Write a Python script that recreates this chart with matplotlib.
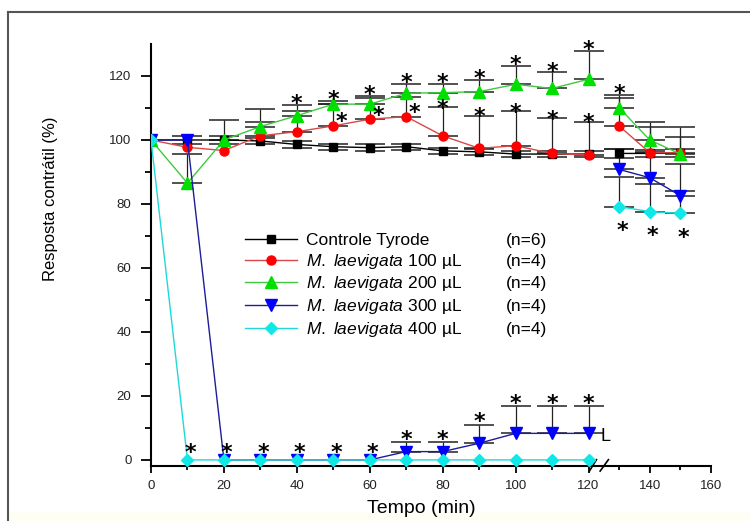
import matplotlib
matplotlib.use("Agg")
import matplotlib.pyplot as plt
import numpy as np
from matplotlib.lines import Line2D
from matplotlib.patches import Rectangle

plt.rcParams['font.family'] = ['Liberation Sans', 'DejaVu Sans']
plt.rcParams['mathtext.fontset'] = 'custom'
plt.rcParams['mathtext.rm'] = 'Liberation Sans'
plt.rcParams['mathtext.it'] = 'Liberation Sans:italic'

# tempo (min)
tempo = [0, 10, 20, 30, 40, 50, 60, 70, 80, 90, 100, 110, 120, 130, 140, 150]

# resposta contratil (%) - media
controle = [100, 100, 100, 99.7, 98.6, 97.9, 97.6, 97.9, 96.6, 96.3, 95.6, 95.6, 95.6, 95.8, 95.8, 96.0]
ml100 = [100, 97.7, 96.7, 101.3, 102.6, 104.4, 106.5, 107.3, 101.3, 97.4, 98.2, 95.8, 95.3, 104.4, 96.0, 96.0]
ml200 = [100, 86.5, 100, 104.2, 107.6, 111.2, 111.2, 114.6, 114.8, 115.1, 117.4, 116.1, 119.0, 110.1, 100.0, 95.6]
ml300 = [100, 100, 0, 0, 0, 0, 0, 2.6, 2.6, 5.2, 8.3, 8.3, 8.3, 90.8, 88.2, 82.6]
ml400 = [100, 0, 0, 0, 0, 0, 0, 0, 0, 0, 0, 0, 0, 79.2, 77.6, 77.1]

# erro padrao (so o lado desenhado)
err_controle = [0, 1.2, 1.2, 1.0, 1.0, 1.0, 1.0, 1.0, 1.0, 1.0, 1.0, 1.0, 1.0, 1.5, 1.2, 1.2]
err_ml100 = [0, 0, 0, 4.2, 6.4, 7.0, 6.5, 6.2, 8.9, 10.2, 10.8, 11.0, 10.4, 8.8, 8.2, 5.0]
err_ml200 = [0, 9.0, 6.3, 5.4, 3.3, 1.0, 2.5, 2.9, 2.7, 3.6, 5.8, 5.0, 8.9, 3.9, 5.5, 8.6]
err_ml300 = [0, 0, 0, 0, 0, 0, 0, 2.9, 2.9, 5.7, 8.4, 8.4, 8.4, 6.3, 8.0, 10.0]
err_ml400 = [0, 0, 0, 0, 0, 0, 0, 0, 0, 0, 0, 0, 0, 9.3, 8.6, 6.9]

# tempos com diferenca significativa (*)
sig_ml100 = [50, 60, 70, 80, 90, 100, 110, 120]
sig_ml200 = [40, 50, 60, 70, 80, 90, 100, 110, 120, 130]
sig_zero = [10, 20, 30, 40, 50, 60]
sig_ml300 = [70, 80, 90, 100, 110, 120]
sig_ml400 = [130, 140, 150]

nomes = ["Controle Tyrode", r"$\it{M.\ laevigata}$ 100 µL", r"$\it{M.\ laevigata}$ 200 µL",
         r"$\it{M.\ laevigata}$ 300 µL", r"$\it{M.\ laevigata}$ 400 µL"]
n_exp = [6, 4, 4, 4, 4]


def fwd(x):
    x = np.asarray(x, dtype=float)
    return np.where(x <= 120, x, 120 + (x - 120) * 0.84)


def inv(x):
    x = np.asarray(x, dtype=float)
    return np.where(x <= 120, x, 120 + (x - 120) / 0.84)


fig = plt.figure(figsize=(7.5, 5.21), dpi=100)
ax = fig.add_axes([151 / 750, 55 / 521, 560 / 750, 422 / 521])
ax.set_xscale('function', functions=(fwd, inv))

t = np.array(tempo)
series = [
    (controle, err_controle, err_controle, 'black', 'black', 's', 6),
    (ml100, [0] * 16, err_ml100, '#d84848', '#ff0000', 'o', 6.5),
    (ml200, [0] * 16, err_ml200, '#40c840', '#00e000', '^', 9),
    (ml300, [0] * 16, err_ml300, '#1c1c9c', '#0000ff', 'v', 8.5),
    (ml400, [0] * 16, err_ml400, '#20d8d8', '#10e8e8', 'D', 6),
]
handles = []
for y, lo, up, lc, mc, m, ms in series:
    y = np.array(y)
    lo = np.array(lo)
    up = np.array(up)
    pre = t <= 120
    pos = t >= 130
    ln, = ax.plot(t[pre], y[pre], color=lc, lw=1, marker=m, mfc=mc, mec=mc, ms=ms, zorder=3)
    ax.plot(t[pos], y[pos], color=lc, lw=1, marker=m, mfc=mc, mec=mc, ms=ms, zorder=3)
    handles.append(ln)
    mk = (lo + up) > 0
    ax.errorbar(t[mk], y[mk], yerr=[lo[mk], up[mk]], fmt='none', ecolor='#222222',
                elinewidth=0.9, capsize=11, capthick=1.1, zorder=2)


def star(x, y, dx=0, dy=0):
    ax.annotate('*', (x, y), xytext=(dx, dy), textcoords='offset points', ha='center',
                va='center', fontsize=16, fontweight='bold', family='DejaVu Sans',
                color='black', zorder=5)


for tt in sig_ml200:
    i = tempo.index(tt)
    star(tt, ml200[i] + err_ml200[i], 0, 0.5)
for tt in sig_ml100:
    i = tempo.index(tt)
    if tt < 80:
        star(tt, ml100[i], 6, 2.5)
    else:
        star(tt, ml100[i] + err_ml100[i], 0, -1)
for tt in sig_zero:
    star(tt, 0, 2, 5)
for tt in sig_ml300:
    i = tempo.index(tt)
    star(tt, ml300[i] + err_ml300[i], 0, 2)
for tt in sig_ml400:
    i = tempo.index(tt)
    star(tt, ml400[i], 2, -17.5)

ax.annotate('L', (120, ml300[12]), xytext=(9, -2), textcoords='offset points',
            ha='left', va='center', fontsize=13)

ax.set_xlim(0, 160)
ax.set_ylim(-1.9, 130)
ax.set_xticks([0, 20, 40, 60, 80, 100, 120, 140, 160])
ax.set_xticks([10, 30, 50, 70, 90, 110, 130, 150], minor=True)
ax.set_xticklabels(['0', '20', '40', '60', '80', '100', '120', '140', '160'])
ax.set_yticks([0, 20, 40, 60, 80, 100, 120])
ax.set_yticks([10, 30, 50, 70, 90, 110], minor=True)

ax.spines['top'].set_visible(False)
ax.spines['right'].set_visible(False)
ax.spines['left'].set_linewidth(1.5)
ax.spines['bottom'].set_linewidth(1.5)
ax.tick_params(axis='y', which='major', length=7, width=1.3, pad=7, labelsize=9.5, labelcolor='#222222')
ax.tick_params(axis='y', which='minor', length=4, width=1.3)
ax.tick_params(axis='x', which='major', length=5, width=1.3, pad=5, labelsize=9.5, labelcolor='#222222')
ax.tick_params(axis='x', which='minor', length=3, width=1.3)

# quebra do eixo x
tr = ax.get_xaxis_transform()
for x0, x1 in [(120.3, 122.6), (123.8, 126.5)]:
    ax.plot([x0, x1], [-0.012, 0.015], transform=tr, color='black', lw=1.2, clip_on=False)

ax.set_xlabel('Tempo (min)', fontsize=14)
ax.xaxis.set_label_coords(0.482, -0.08)
ax.set_ylabel('Resposta contrátil (%)', fontsize=12, va='center')
ax.yaxis.set_label_coords(-0.18, 0.633)

leg = ax.legend(handles, nomes, loc='upper left', bbox_to_anchor=(0.168, 0.553), frameon=False,
                fontsize=12.5, handlelength=3, handletextpad=0.5, labelspacing=0.22,
                borderpad=0, borderaxespad=0, numpoints=1)

# coluna (n=...) alinhada a direita dos nomes
fig.canvas.draw()
rend = fig.canvas.get_renderer()
caixas = [tx.get_window_extent(rend) for tx in leg.get_texts()]
x_n = max(b.x1 for b in caixas) + 44
for b, n in zip(caixas, n_exp):
    fig.text(x_n / 750, (b.y0 + b.y1) / 2 / 521, "(n=%d)" % n, fontsize=12.5,
             ha='left', va='center')

# moldura e faixa clara da imagem original
fig.add_artist(Line2D([8 / 750, 8 / 750], [0, 1 - 12 / 521], color='#555555', lw=1.5))
fig.add_artist(Line2D([8 / 750, 1], [1 - 12 / 521, 1 - 12 / 521], color='#555555', lw=1.5))
fig.add_artist(Rectangle((9 / 750, 0), 1, 9 / 521, color='#fefef4', zorder=-1))

fig.savefig('out.png', dpi=100)
